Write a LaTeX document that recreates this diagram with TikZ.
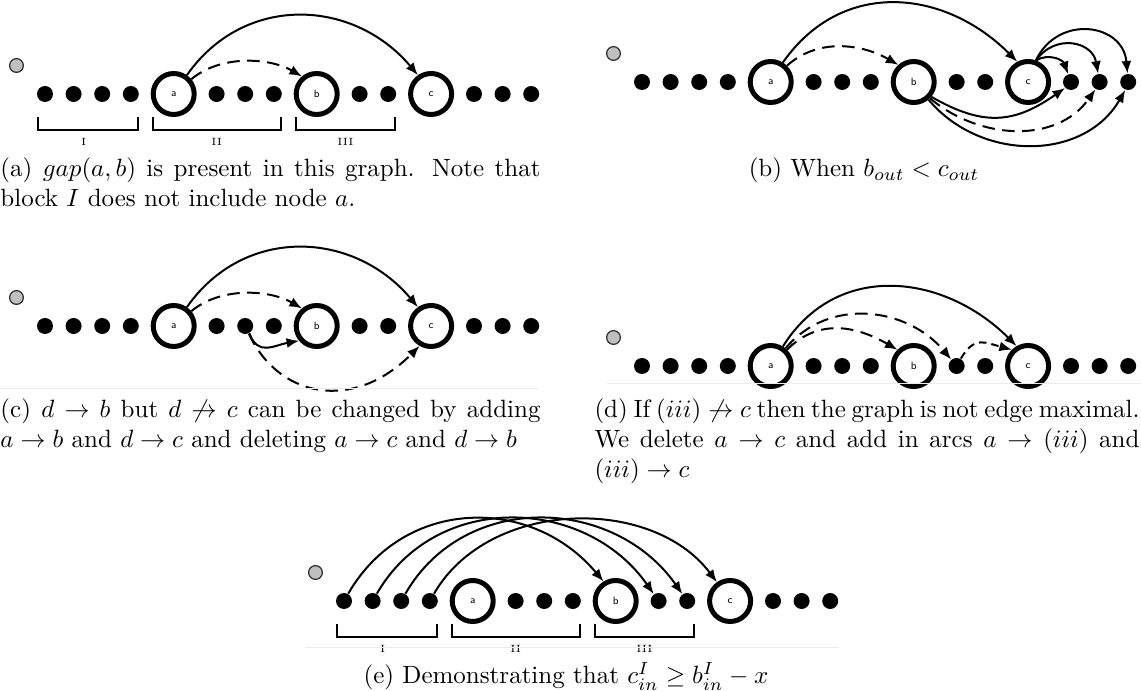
\documentclass[tikz,border=0pt]{standalone}
\usepackage{fontspec}
\usepackage{amsmath}
\usepackage{amssymb}
\usetikzlibrary{arrows.meta}
\hyphenpenalty=10000
\tikzset{
  vertex/.style={circle, fill=black, inner sep=0pt, minimum size=6.4pt},
  bignode/.style={circle, draw=black, fill=white, line width=2pt,
    inner sep=0pt, minimum size=16.4pt, font=\fontsize{4.2}{5}\selectfont\sffamily},
  rootnode/.style={circle, draw=black!80, fill=black!25, line width=0.5pt,
    inner sep=0pt, minimum size=5.5pt},
  arcedge/.style={-{Latex[length=5pt,width=4pt]}, line width=0.8pt},
  dasharc/.style={arcedge, dash pattern=on 5pt off 3pt},
  shortdash/.style={arcedge, dash pattern=on 3pt off 2pt},
  blockline/.style={line width=0.8pt},
  blocklabel/.style={font=\fontsize{4.2}{5}\selectfont, inner sep=0pt},
  sepline/.style={draw=black!8, line width=0.4pt},
  capt/.style={anchor=base west, inner sep=0pt, text width=216pt, align=justify}
}
% one row of the graph: prefix, x and y (y counted from the top)
\newcommand{\graphrow}[3]{%
  \node[rootnode] (#1r) at ({#2-28.5},{-#3+28.5}) {};
  \foreach \s in {0,1,2,3,6,7,8,11,12,15,16,17}
    \node[vertex] (#1\s) at ({#2+\s*28.6},{-#3}) {};
  \node[bignode] (#1a) at ({#2+4.5*28.6},{-#3}) {a};
  \node[bignode] (#1b) at ({#2+9.5*28.6},{-#3}) {b};
  \node[bignode] (#1c) at ({#2+13.5*28.6},{-#3}) {c};
}
% the three blocks under a row
\newcommand{\blockrow}[3]{%
  \draw[blockline] ({#2-7},{-#3-23}) -- ({#2-7},{-#3-36}) -- ({#2+3*28.6+7},{-#3-36}) -- ({#2+3*28.6+7},{-#3-23});
  \draw[blockline] ({#2+4.5*28.6-21},{-#3-23}) -- ({#2+4.5*28.6-21},{-#3-36}) -- ({#2+8*28.6+7},{-#3-36}) -- ({#2+8*28.6+7},{-#3-23});
  \draw[blockline] ({#2+9.5*28.6-21},{-#3-23}) -- ({#2+9.5*28.6-21},{-#3-36}) -- ({#2+12*28.6+7},{-#3-36}) -- ({#2+12*28.6+7},{-#3-23});
  \node[blocklabel] (#1I) at ({#2+1.35*28.6},{-#3-48}) {I};
  \node[blocklabel] (#1II) at ({#2+(4.5*28.6-21+8*28.6+7)/2},{-#3-48}) {II};
  \node[blocklabel] (#1III) at ({#2+(9.5*28.6-21+12*28.6+7)/2},{-#3-48}) {III};
}

\begin{document}
\begin{tikzpicture}[x=0.4pt, y=0.4pt]
  \useasboundingbox (0,0) rectangle (1141,-691);

  % (a)
  \graphrow{A}{45}{94}
  \blockrow{A}{45}{94}
  \draw[arcedge] (Aa.55) .. controls +(55:100) and +(130:100) .. (Ac.125);
  \draw[dasharc] (Aa.40) .. controls +(40:38) and +(150:38) .. (Ab.130);
  \node[capt] (capA) at (0,-177) {(a) $gap(a,b)$ is present in this graph. Note that block $I$ does not include node $a$.};

  % (b)
  \graphrow{B}{642}{82}
  \draw[arcedge] (Ba.58) .. controls +(55:103) and +(135:103) .. (Bc.118);
  \draw[dasharc] (Ba.45) .. controls +(42:42) and +(150:42) .. (Bb.132);
  \draw[arcedge] (Bc.70) .. controls +(30:15) and +(110:15) .. (B15.110);
  \draw[arcedge] (Bc.70) .. controls +(55:33) and +(100:33) .. (B16.100);
  \draw[arcedge] (Bc.70) .. controls +(65:51) and +(95:51) .. (B17.95);
  \draw[arcedge] (Bb.-40) .. controls +(-30:61) and +(215:61) .. (B15.225);
  \draw[dasharc] (Bb.-45) .. controls +(-40:66) and +(235:66) .. (B16.240);
  \draw[arcedge] (Bb.-50) .. controls +(-50:82) and +(240:82) .. (B17.250);
  \node[anchor=base, inner sep=0pt] (capB) at (864,-177) {(b) When $b_{out} < c_{out}$};

  % (c)
  \graphrow{C}{45}{326}
  \draw[arcedge] (Ca.55) .. controls +(55:100) and +(130:100) .. (Cc.125);
  \draw[dasharc] (Ca.40) .. controls +(40:38) and +(150:38) .. (Cb.130);
  \draw[arcedge] (C7.-60) .. controls +(-70:25) and +(190:25) .. (Cb.220);
  \draw[dasharc] (C7.-65) .. controls +(-65:70) and +(225:95) .. (Cc.240);
  \draw[sepline] (0,-389) -- (539,-389);
  \node[capt] (capC) at (0,-418) {(c) $d \to b$ but $d \not\to c$ can be changed by adding $a \to b$ and $d \to c$ and deleting $a \to c$ and $d \to b$};

  % (d)
  \graphrow{D}{642}{366}
  \draw[arcedge] (Da.58) .. controls +(58:102) and +(135:102) .. (Dc.120);
  \draw[dasharc] (Da.45) .. controls +(45:46) and +(150:46) .. (Db.135);
  \draw[dasharc] (Da.50) .. controls +(50:68) and +(130:68) .. (D11.130);
  \draw[shortdash] (D11.60) .. controls +(60:27) and +(165:27) .. (Dc.135);
  \draw[sepline] (607,-384) -- (1141,-384);
  \node[capt, text width=218pt] (capD) at (594,-418) {(d) If $(iii) \not\to c$ then the graph is not edge maximal. We delete $a \to c$ and add in arcs $a \to (iii)$ and $(iii) \to c$};

  % (e)
  \graphrow{E}{344}{601}
  \blockrow{E}{344}{601}
  \draw[arcedge] (E0.60) .. controls +(60:112) and +(130:112) .. (Eb.122);
  \draw[arcedge] (E1.60) .. controls +(60:119) and +(125:119) .. (E11.125);
  \draw[arcedge] (E2.60) .. controls +(60:119) and +(125:119) .. (E12.125);
  \draw[arcedge] (E3.60) .. controls +(60:109) and +(127:109) .. (Ec.125);
  \draw[sepline] (306,-648) -- (838,-648);
  \node[anchor=base, inner sep=0pt] (capE) at (566,-684) {(e) Demonstrating that $c^I_{in} \geq b^I_{in} - x$};
\end{tikzpicture}
\end{document}
